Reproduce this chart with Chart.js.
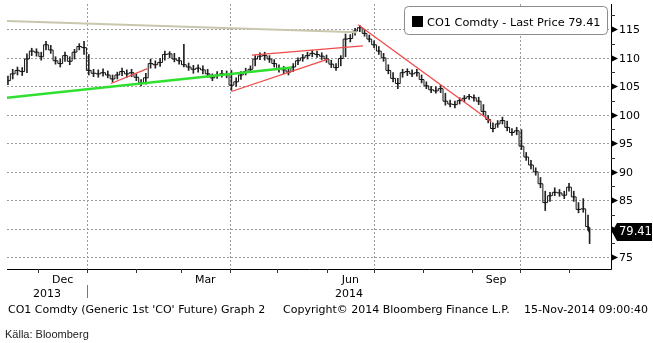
<!DOCTYPE html>
<html>
<head>
<meta charset="utf-8">
<script src="https://cdn.jsdelivr.net/npm/chart.js@4.4.0/dist/chart.umd.min.js"></script>
<style>
  html, body { margin: 0; padding: 0; background: #fff; }
  #wrap { width: 653px; height: 343px; position: relative; }
</style>
</head>
<body>
<div id="wrap"><canvas id="chart" width="653" height="343"></canvas></div>
<script>
// CO1 Comdty, bars (every ~3 days)
const dates = [
  '2013-11-12','2013-11-15','2013-11-18','2013-11-21','2013-11-24','2013-11-27','2013-11-30',
  '2013-12-03','2013-12-06','2013-12-09','2013-12-12','2013-12-15','2013-12-18','2013-12-21',
  '2013-12-24','2013-12-27','2013-12-30','2014-01-02','2014-01-05','2014-01-08','2014-01-11',
  '2014-01-14','2014-01-17','2014-01-20','2014-01-23','2014-01-26','2014-01-29','2014-02-01',
  '2014-02-04','2014-02-07','2014-02-10','2014-02-13','2014-02-16','2014-02-19','2014-02-22',
  '2014-02-25','2014-02-28','2014-03-03','2014-03-06','2014-03-09','2014-03-12','2014-03-15',
  '2014-03-18','2014-03-21','2014-03-24','2014-03-27','2014-03-30','2014-04-02','2014-04-05',
  '2014-04-08','2014-04-11','2014-04-14','2014-04-17','2014-04-20','2014-04-23','2014-04-26',
  '2014-04-29','2014-05-02','2014-05-05','2014-05-08','2014-05-11','2014-05-14','2014-05-17',
  '2014-05-20','2014-05-23','2014-05-26','2014-05-29','2014-06-01','2014-06-04','2014-06-07',
  '2014-06-10','2014-06-13','2014-06-16','2014-06-19','2014-06-22','2014-06-25','2014-06-28',
  '2014-07-01','2014-07-04','2014-07-07','2014-07-10','2014-07-13','2014-07-16','2014-07-19',
  '2014-07-22','2014-07-25','2014-07-28','2014-07-31','2014-08-03','2014-08-06','2014-08-09',
  '2014-08-12','2014-08-15','2014-08-18','2014-08-21','2014-08-24','2014-08-27','2014-08-30',
  '2014-09-02','2014-09-05','2014-09-08','2014-09-11','2014-09-14','2014-09-17','2014-09-20',
  '2014-09-23','2014-09-26','2014-09-29','2014-10-02','2014-10-05','2014-10-08','2014-10-11',
  '2014-10-14','2014-10-17','2014-10-20','2014-10-23','2014-10-26','2014-10-29','2014-11-01',
  '2014-11-04','2014-11-07','2014-11-10','2014-11-13','2014-11-14'
];
const closes = [
  106.0,107.2,107.8,107.6,109.8,111.2,111.0,
  110.2,112.3,111.4,109.5,109.0,110.4,109.4,
  111.0,112.0,111.8,107.8,107.3,107.2,107.4,
  107.0,106.3,107.0,107.6,107.2,107.4,106.6,
  105.6,106.5,109.0,108.8,109.2,110.6,110.7,
  109.8,109.5,108.8,108.4,108.0,108.2,107.9,
  107.2,106.5,107.0,107.2,107.1,105.2,105.8,
  107.0,107.6,108.0,109.8,110.3,110.4,109.8,
  109.0,108.0,107.9,107.5,108.4,109.5,110.0,
  110.4,110.8,110.6,110.3,109.8,108.9,108.3,
  109.9,113.3,113.4,114.7,115.3,114.3,113.3,
  112.3,111.2,110.0,107.8,106.4,105.5,107.4,
  107.6,107.2,107.4,106.2,105.1,104.4,104.2,
  104.6,102.4,101.9,101.8,102.5,102.9,103.2,
  103.0,102.4,100.6,99.2,97.6,98.4,99.0,
  97.8,96.9,97.2,94.5,92.6,91.2,90.0,
  87.9,84.6,85.8,86.4,86.3,85.9,87.3,
  85.6,83.4,83.5,80.4,79.41
];
const highs = [
  106.8,108.0,108.4,108.3,110.7,111.7,111.6,
  111.0,112.9,112.2,110.2,109.8,111.0,110.2,
  111.5,112.5,112.9,110.6,108.0,107.9,108.1,
  107.7,107.0,107.5,108.2,107.9,108.0,107.2,
  106.2,107.3,109.8,109.5,109.9,111.2,111.1,
  110.8,110.1,112.4,109.1,108.7,108.8,108.6,
  108.0,107.2,107.6,107.8,107.7,107.8,106.5,
  107.6,108.2,108.6,110.4,110.9,111.0,110.4,
  109.7,108.8,108.5,108.2,109.0,110.0,110.6,
  111.0,111.3,111.2,110.9,110.5,109.6,109.0,
  110.4,114.2,114.1,115.2,115.7,115.0,114.0,
  113.0,112.0,110.8,108.8,107.4,106.4,108.0,
  108.1,107.9,108.0,107.0,105.8,105.0,104.9,
  105.2,103.8,102.6,102.4,103.0,103.4,103.6,
  103.5,103.1,101.8,99.9,98.6,99.0,99.6,
  98.9,97.6,97.8,97.4,93.4,92.0,90.7,
  89.0,86.6,86.4,87.2,86.9,86.6,88.0,
  86.6,84.6,85.3,82.4,80.2
];
const lows = [
  105.3,106.3,107.0,106.9,107.4,110.4,110.3,
  109.6,111.4,110.8,108.9,108.4,109.4,108.8,
  109.8,111.4,110.6,107.0,106.7,106.6,106.8,
  106.5,105.8,106.3,106.9,106.6,106.7,106.0,
  105.1,105.4,108.2,108.2,108.5,109.6,110.0,
  109.3,108.9,108.4,107.8,107.3,107.5,107.2,
  106.6,106.0,106.4,106.6,106.5,104.3,105.0,
  106.2,107.0,107.4,108.6,109.7,109.6,109.2,
  108.4,107.5,107.2,107.0,107.6,108.8,109.4,
  109.8,110.2,110.1,109.7,109.2,108.3,107.8,
  108.6,110.2,112.8,114.0,114.6,113.8,112.8,
  111.8,110.6,109.4,107.2,105.8,104.6,106.6,
  106.9,106.7,106.8,105.6,104.6,103.9,103.8,
  103.9,101.7,101.4,101.2,101.9,102.3,102.7,
  102.4,101.8,100.0,98.6,97.0,97.8,98.4,
  97.2,96.4,96.5,93.9,92.0,90.5,89.4,
  87.2,83.2,84.8,85.8,85.7,85.3,86.6,
  84.8,82.8,82.9,79.7,77.4
];
const lastPrice = 79.41;

// hand drawn trend lines (start / end)
const grayTrendDates  = ['2013-11-11', '2014-06-20'];
const grayTrendValues = [116.5, 114.5];
const greenTrendDates  = ['2013-11-11', '2014-05-10'];
const greenTrendValues = [103.0, 108.3];
const redTrendADates  = ['2014-01-16', '2014-02-08'];
const redTrendAValues = [105.5, 108.1];
const redTrendBDates  = ['2014-04-02', '2014-06-02'];
const redTrendBValues = [104.1, 109.8];
const redTrendCDates  = ['2014-04-15', '2014-06-24'];
const redTrendCValues = [110.5, 112.1];
const redTrendDDates  = ['2014-06-21', '2014-09-13'];
const redTrendDValues = [115.8, 98.8];

// axes
const yTicks = [75, 80, 85, 90, 95, 100, 105, 110, 115];
const monthStarts = ['2013-12-01','2014-01-01','2014-02-01','2014-03-01','2014-04-01','2014-05-01',
  '2014-06-01','2014-07-01','2014-08-01','2014-09-01','2014-10-01','2014-11-01'];
const quarterLines = ['2014-01-01','2014-04-01','2014-07-01','2014-10-01'];
const monthLabels = [['Dec','2013-12-01','2014-01-01'], ['Mar','2014-03-01','2014-04-01'],
  ['Jun','2014-06-01','2014-07-01'], ['Sep','2014-09-01','2014-10-01']];
const yearLabels = [['2013', null, '2014-01-01'], ['2014', '2014-01-01', null]];

const day = s => Date.parse(s + 'T00:00:00Z') / 86400000;
const ORIGIN = day('2013-12-01');
const FONT = '"DejaVu Sans", sans-serif';

const pts = (ds, vs) => ds.map((d, i) => ({ x: day(d), y: vs[i] }));
const trend = (ds, vs, color, width) => ({
  type: 'line', data: pts(ds, vs), borderColor: color, borderWidth: width,
  pointRadius: 0, fill: false, order: 0, tension: 0
});

const bloombergDecor = {
  id: 'bloombergDecor',
  beforeDatasetsDraw(chart) {
    const { ctx, chartArea: a, scales: { x, y } } = chart;
    ctx.save();
    ctx.strokeStyle = '#9a9a9a';
    ctx.lineWidth = 1;
    ctx.setLineDash([2, 2]);
    yTicks.forEach(v => {
      const py = Math.round(y.getPixelForValue(v)) + 0.5;
      ctx.beginPath(); ctx.moveTo(a.left, py); ctx.lineTo(a.right, py); ctx.stroke();
    });
    quarterLines.forEach(d => {
      const px = Math.round(x.getPixelForValue(day(d))) + 0.5;
      ctx.beginPath(); ctx.moveTo(px, a.top); ctx.lineTo(px, a.bottom + 3); ctx.stroke();
    });
    ctx.restore();
  },
  afterDraw(chart) {
    const { ctx, chartArea: a, scales: { x, y } } = chart;
    ctx.save();
    // axis lines
    ctx.strokeStyle = '#000';
    ctx.lineWidth = 1;
    ctx.beginPath();
    ctx.moveTo(a.left, a.bottom + 0.5); ctx.lineTo(a.right + 0.5, a.bottom + 0.5);
    ctx.moveTo(a.right + 0.5, a.top); ctx.lineTo(a.right + 0.5, a.bottom + 0.5);
    ctx.stroke();

    // month ticks
    ctx.strokeStyle = '#333';
    monthStarts.forEach(d => {
      const px = Math.round(x.getPixelForValue(day(d))) + 0.5;
      ctx.beginPath(); ctx.moveTo(px, a.bottom); ctx.lineTo(px, a.bottom + 4); ctx.stroke();
    });

    // minor y ticks
    for (let i = 0; i < yTicks.length; i++) {
      const v = yTicks[i] + 2.5;
      if (v > y.max) break;
      const py = Math.round(y.getPixelForValue(v)) + 0.5;
      ctx.beginPath(); ctx.moveTo(a.right, py); ctx.lineTo(a.right + 4, py); ctx.stroke();
    }

    // y labels with arrow markers
    ctx.fillStyle = '#000';
    ctx.font = '11px ' + FONT;
    ctx.textBaseline = 'middle';
    ctx.textAlign = 'left';
    yTicks.forEach(v => {
      const py = Math.round(y.getPixelForValue(v)) + 0.5;
      ctx.beginPath();
      ctx.moveTo(a.right + 1, py - 3); ctx.lineTo(a.right + 7, py); ctx.lineTo(a.right + 1, py + 3);
      ctx.closePath(); ctx.fill();
      ctx.fillText(String(v), a.right + 8, py + 0.5);
    });

    // last price tag
    const ly = Math.round(y.getPixelForValue(lastPrice));
    ctx.fillStyle = '#000';
    ctx.beginPath();
    ctx.moveTo(a.right + 1, ly);
    ctx.lineTo(a.right + 6, ly - 9); ctx.lineTo(652, ly - 9);
    ctx.lineTo(652, ly + 9); ctx.lineTo(a.right + 6, ly + 9);
    ctx.closePath(); ctx.fill();
    ctx.fillStyle = '#fff';
    ctx.font = '11.5px ' + FONT;
    ctx.fillText(lastPrice.toFixed(2), a.right + 8, ly + 0.5);

    // x labels
    ctx.fillStyle = '#000';
    ctx.font = '11px ' + FONT;
    ctx.textAlign = 'center';
    ctx.textBaseline = 'alphabetic';
    monthLabels.forEach(([t, s, e]) => {
      const px = (x.getPixelForValue(day(s)) + x.getPixelForValue(day(e))) / 2;
      ctx.fillText(t, px, a.bottom + 14);
    });
    yearLabels.forEach(([t, s, e]) => {
      const l = s ? x.getPixelForValue(day(s)) : a.left;
      const r = e ? x.getPixelForValue(day(e)) : a.right;
      ctx.fillText(t, (l + r) / 2, a.bottom + 28);
    });
    const sep = Math.round(x.getPixelForValue(day('2014-01-01'))) + 0.5;
    ctx.strokeStyle = '#777';
    ctx.beginPath(); ctx.moveTo(sep, a.bottom + 16); ctx.lineTo(sep, a.bottom + 29); ctx.stroke();

    // footer
    ctx.textAlign = 'left';
    ctx.fillText("CO1 Comdty (Generic 1st 'CO' Future) Graph 2", 8, 313);
    ctx.fillText('Copyright\u00a9 2014 Bloomberg Finance L.P.', 283, 313);
    ctx.textAlign = 'right';
    ctx.fillText('15-Nov-2014 09:00:40', 648, 313);
    ctx.textAlign = 'left';
    ctx.fillStyle = '#222';
    ctx.font = '11px "Liberation Sans", Arial, sans-serif';
    ctx.fillText('K\u00e4lla: Bloomberg', 5, 338);

    // legend box
    ctx.fillStyle = '#fff';
    ctx.strokeStyle = '#8c8c8c';
    ctx.beginPath();
    ctx.roundRect(404.5, 6.5, 203, 28, 4);
    ctx.fill(); ctx.stroke();
    ctx.fillStyle = '#000';
    ctx.fillRect(412, 16, 11, 11);
    ctx.font = '11.3px ' + FONT;
    ctx.fillText('CO1 Comdty - Last Price ' + lastPrice.toFixed(2), 427, 25.5);
    ctx.restore();
  }
};

new Chart(document.getElementById('chart'), {
  type: 'line',
  data: {
    datasets: [
      trend(grayTrendDates, grayTrendValues, '#c9c7ad', 2),
      trend(greenTrendDates, greenTrendValues, '#30e030', 2.5),
      trend(redTrendADates, redTrendAValues, '#f24848', 1.3),
      trend(redTrendBDates, redTrendBValues, '#f24848', 1.3),
      trend(redTrendCDates, redTrendCValues, '#f24848', 1.3),
      trend(redTrendDDates, redTrendDValues, '#f24848', 1.3),
      {
        type: 'line',
        data: pts(dates, closes),
        borderColor: '#111',
        borderWidth: 1,
        stepped: 'middle',
        pointRadius: 0,
        fill: false,
        order: 1
      },
      {
        type: 'bar',
        data: dates.map((d, i) => ({ x: day(d), y: [lows[i], highs[i]] })),
        backgroundColor: '#222',
        borderWidth: 0,
        barThickness: 1,
        grouped: false,
        order: 2
      }
    ]
  },
  options: {
    responsive: false,
    animation: false,
    events: [],
    layout: { padding: { left: 7, top: 4, right: 0, bottom: 0 } },
    plugins: { legend: { display: false }, tooltip: { enabled: false } },
    scales: {
      x: {
        type: 'linear',
        offset: false,
        min: ORIGIN - 19.6,
        max: ORIGIN + 361.5,
        grid: { display: false },
        border: { display: false },
        ticks: { display: false },
        afterFit: s => { s.height = 74; }
      },
      y: {
        position: 'right',
        min: 72.94,
        max: 119.46,
        grid: { display: false },
        border: { display: false },
        ticks: { display: false },
        afterFit: s => { s.width = 42; }
      }
    }
  },
  plugins: [bloombergDecor]
});
</script>
</body>
</html>
